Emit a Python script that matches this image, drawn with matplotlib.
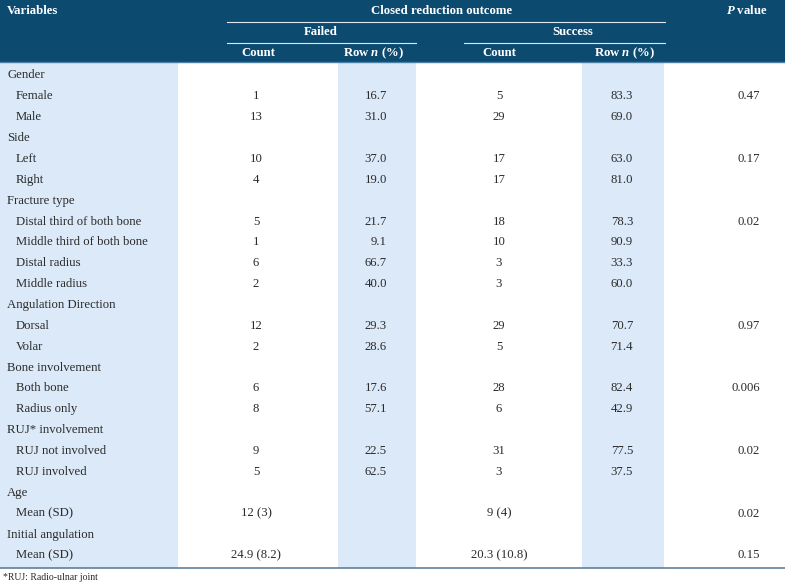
import matplotlib.pyplot as plt
from matplotlib.patches import Rectangle

# table data
labels = ["Gender", "Female", "Male",
          "Side", "Left", "Right",
          "Fracture type", "Distal third of both bone", "Middle third of both bone",
          "Distal radius", "Middle radius",
          "Angulation Direction", "Dorsal", "Volar",
          "Bone involvement", "Both bone", "Radius only",
          "RUJ* involvement", "RUJ not involved", "RUJ involved",
          "Age", "Mean (SD)",
          "Initial angulation", "Mean (SD)"]
is_group = [1, 0, 0, 1, 0, 0, 1, 0, 0, 0, 0, 1, 0, 0, 1, 0, 0, 1, 0, 0, 1, 0, 1, 0]

failed_count = [None, 1, 13, None, 10, 4, None, 5, 1, 6, 2, None, 12, 2,
                None, 6, 8, None, 9, 5, None, None, None, None]
failed_pct = [None, 16.7, 31.0, None, 37.0, 19.0, None, 21.7, 9.1, 66.7, 40.0, None, 29.3, 28.6,
              None, 17.6, 57.1, None, 22.5, 62.5, None, None, None, None]
success_count = [None, 5, 29, None, 17, 17, None, 18, 10, 3, 3, None, 29, 5,
                 None, 28, 6, None, 31, 3, None, None, None, None]
success_pct = [None, 83.3, 69.0, None, 63.0, 81.0, None, 78.3, 90.9, 33.3, 60.0, None, 70.7, 71.4,
               None, 82.4, 42.9, None, 77.5, 37.5, None, None, None, None]
p_values = ["", "0.47", "", "", "0.17", "", "", "0.02", "", "", "", "", "0.97", "",
            "", "0.006", "", "", "0.02", "", "", "0.02", "", "0.15"]

# mean (SD) rows: row index -> (failed, success)
mean_rows = {21: ("12 (3)", "9 (4)"), 23: ("24.9 (8.2)", "20.3 (10.8)")}

footnote = "*RUJ: Radio-ulnar joint"

dark = "#0c4a70"
light = "#dbe9f8"
txt = "#2b2b2b"

plt.rcParams['font.family'] = ['Liberation Serif', 'DejaVu Serif']
plt.rcParams['mathtext.fontset'] = 'custom'
plt.rcParams['mathtext.rm'] = 'Liberation Serif'
plt.rcParams['mathtext.it'] = 'Liberation Serif:italic'
plt.rcParams['mathtext.bf'] = 'Liberation Serif:bold'
plt.rcParams['mathtext.bfit'] = 'Liberation Serif:bold:italic'

W, H = 785, 583
fig = plt.figure(figsize=(W / 100, H / 100), dpi=100)
ax = fig.add_axes([0, 0, 1, 1])
ax.set_xlim(0, W)
ax.set_ylim(H, 0)
ax.axis('off')

head_h = 62
row_h = 20.87
body_top = 65
body_bot = 568

fs = 9.2

# background stripes
ax.add_patch(Rectangle((0, 0), W, head_h, color=dark, lw=0))
for x0, x1 in [(0, 178), (338, 416), (582, 664)]:
    ax.add_patch(Rectangle((x0, head_h), x1 - x0, body_bot - head_h, color=light, lw=0))
ax.plot([0, W], [head_h, head_h], color="#4a7fa8", lw=1)

# header
hfont = dict(color="white", fontweight="bold", fontsize=fs, va="center")
ax.text(7, 11, "Variables", ha="left", **hfont)
ax.text(442, 11, "Closed reduction outcome", ha="center", **hfont)
ax.text(768, 11, r"$\mathbfit{P}$ value", ha="right", **hfont)
ax.plot([227, 665], [21.5, 21.5], color="#dfe8f0", lw=0.8)
ax.text(321, 32, "Failed", ha="center", **hfont)
ax.text(573, 32, "Success", ha="center", **hfont)
ax.plot([227, 416], [42.5, 42.5], color="#dfe8f0", lw=0.8)
ax.plot([464, 665], [42.5, 42.5], color="#dfe8f0", lw=0.8)
ax.text(258, 53, "Count", ha="center", **hfont)
ax.text(374, 53, r"Row $\mathbfit{n}$ (%)", ha="center", **hfont)
ax.text(499, 53, "Count", ha="center", **hfont)
ax.text(625, 53, r"Row $\mathbfit{n}$ (%)", ha="center", **hfont)

# body
bfont = dict(color=txt, fontsize=fs, va="center")
for i, lab in enumerate(labels):
    y = body_top + row_h * (i + 0.5)
    ax.text(7 if is_group[i] else 16, y, lab, ha="left", **bfont)
    if failed_count[i] is not None:
        ax.text(256, y, str(failed_count[i]), ha="center", **bfont)
        ax.text(387, y, f"{failed_pct[i]:.1f}", ha="right", **bfont)
        ax.text(499, y, str(success_count[i]), ha="center", **bfont)
        ax.text(633, y, f"{success_pct[i]:.1f}", ha="right", **bfont)
    if i in mean_rows:
        ax.text(256, y, mean_rows[i][0], ha="center", **bfont)
        ax.text(499, y, mean_rows[i][1], ha="center", **bfont)
    if p_values[i]:
        ax.text(760, y, p_values[i], ha="right", **bfont)

ax.plot([0, W], [body_bot, body_bot], color="#5f7f9c", lw=1.2)
ax.text(3, 577, footnote, ha="left", va="center", color=txt, fontsize=7)

fig.savefig("out.png", dpi=100)
